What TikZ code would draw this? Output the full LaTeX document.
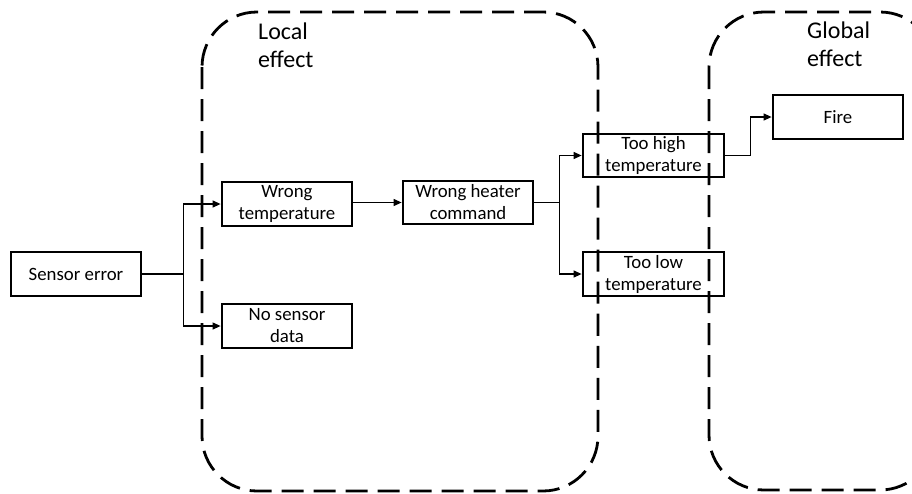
\documentclass[tikz,border=0pt]{standalone}
\usepackage{fontspec}
\setmainfont{Carlito}
\usetikzlibrary{arrows.meta}
\begin{document}
\begin{tikzpicture}[x=1pt,y=-1pt,
  block/.style={draw, line width=2.8pt, inner sep=0pt, align=center,
    minimum width=130pt, minimum height=44pt,
    font=\fontsize{18.8}{22}\selectfont},
  wideblock/.style={block, minimum width=141pt, minimum height=43pt},
  conn/.style={line width=1.2pt, -{Triangle[length=8pt,width=7pt]}},
  region/.style={line width=2.8pt, dash pattern=on 22pt off 10pt, rounded corners=55pt},
  regionlabel/.style={anchor=north west, inner sep=0pt, align=left,
    font=\fontsize{24}{28}\selectfont}]
\useasboundingbox (0,0) rectangle (912,493);
\clip (0,0) rectangle (912,493);

% effect regions
\draw[region] (202,12) rectangle (598,491);
\draw[region] (709,12) rectangle (935,490);
\node[regionlabel] (locallbl) at (258,23) {Local\\effect};
\node[regionlabel] (globallbl) at (807,22) {Global\\effect};

% failure chain
\node[block] (se) at (76,274) {Sensor error};
\node[block] (wt) at (287,204) {Wrong\\temperature};
\node[block] (nsd) at (287,326) {No sensor\\data};
\node[block, minimum height=43pt] (whc) at (468,202.5) {Wrong heater\\command};
\node[wideblock] (th) at (653.5,155.5) {Too high\\temperature};
\node[wideblock, minimum height=44pt] (tl) at (653.5,274) {Too low\\temperature};
\node[block] (fire) at (838,117) {Fire};

% connectors
\draw[conn] (se.east) -- ++(41,0) |- (wt.west);
\draw[conn] (se.east) -- ++(41,0) |- (nsd.west);
\draw[conn] (wt.east |- whc.west) -- (whc.west);
\draw[conn] (whc.east) -- ++(25,0) |- (th.west);
\draw[conn] (whc.east) -- ++(25,0) |- (tl.west);
\draw[conn] (th.east) -- ++(25,0) |- (fire.west);
\end{tikzpicture}
\end{document}
